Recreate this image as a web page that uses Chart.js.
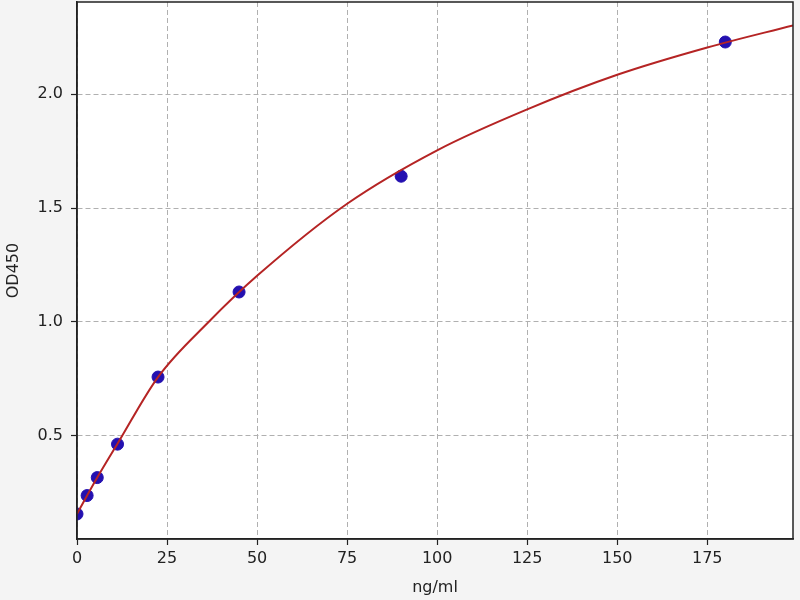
<!DOCTYPE html>
<html>
<head>
<meta charset="utf-8">
<script src="https://cdn.jsdelivr.net/npm/chart.js@4/dist/chart.umd.min.js"></script>
<style>
html,body{margin:0;padding:0;background:#f4f4f4;}
#wrap{width:800px;height:600px;}
</style>
</head>
<body>
<div id="wrap"><canvas id="c" width="800" height="600"></canvas></div>
<script>
// Measured standards
const pointX = [0, 2.8125, 5.625, 11.25, 22.5, 45, 90, 180];
const pointY = [0.155, 0.236, 0.315, 0.462, 0.757, 1.131, 1.64, 2.23];
// Fitted curve
const curveX = [0, 2.8125, 5.625, 11.25, 22.5, 36.6, 50, 75, 100, 125, 150, 175, 198.8];
const curveY = [0.155, 0.236, 0.315, 0.464, 0.757, 1.0, 1.202, 1.519, 1.754, 1.934, 2.086, 2.206, 2.303];
// Tick labels
const xTicks = [0, 25, 50, 75, 100, 125, 150, 175];
const yTicks = [0.5, 1.0, 1.5, 2.0];
const xRange = [0, 198.8];
const yRange = [0.045, 2.406];

const FONT = 'DejaVu Sans';

const bgPlugin = {
  id: 'bg',
  beforeDraw(chart) {
    const ctx = chart.ctx, a = chart.chartArea;
    ctx.save();
    ctx.fillStyle = '#f4f4f4';
    ctx.fillRect(0, 0, chart.width, chart.height);
    ctx.fillStyle = '#ffffff';
    ctx.fillRect(a.left, a.top, a.right - a.left, a.bottom - a.top);
    ctx.restore();
  },
  afterDraw(chart) {
    const ctx = chart.ctx, a = chart.chartArea;
    ctx.save();
    ctx.strokeStyle = '#222222';
    ctx.lineWidth = 1.5;
    ctx.strokeRect(a.left, a.top, a.right - a.left, a.bottom - a.top);
    ctx.restore();
  }
};

const gridOpts = {
  color: '#b0b0b0', lineWidth: 1,
  drawTicks: true, tickLength: 6, tickColor: '#222222', tickBorderDash: [], tickWidth: 1.2
};

new Chart(document.getElementById('c'), {
  type: 'scatter',
  data: {
    datasets: [
      {
        label: 'curve',
        type: 'line',
        data: curveX.map((x, i) => ({x: x, y: curveY[i]})),
        borderColor: '#b52424',
        borderWidth: 2,
        pointRadius: 0,
        cubicInterpolationMode: 'monotone',
        fill: false,
        clip: 0,
        order: 0
      },
      {
        label: 'points',
        data: pointX.map((x, i) => ({x: x, y: pointY[i]})),
        backgroundColor: '#2410b0',
        borderColor: '#2410b0',
        pointRadius: 6,
        pointHoverRadius: 6,
        clip: 0,
        order: 1
      }
    ]
  },
  options: {
    responsive: false,
    animation: false,
    devicePixelRatio: 1,
    layout: {autoPadding: false, padding: {left: 0, right: 7, top: 2, bottom: 0}},
    plugins: {legend: {display: false}, tooltip: {enabled: false}},
    scales: {
      x: {
        type: 'linear',
        min: xRange[0], max: xRange[1],
        afterBuildTicks(s) { s.ticks = xTicks.map(v => ({value: v})); },
        afterFit(s) { s.height = 61; s.paddingLeft = 0; s.paddingRight = 0; },
        border: {display: true, color: '#222222', width: 1.5, dash: [5, 3]},
        grid: gridOpts,
        ticks: {
          color: '#222222', font: {family: FONT, size: 16}, padding: 4,
          maxRotation: 0, autoSkip: false,
          callback: v => String(v)
        },
        title: {display: true, text: 'ng/ml', color: '#222222', font: {family: FONT, size: 16}, padding: {top: 0, bottom: 3}}
      },
      y: {
        type: 'linear',
        min: yRange[0], max: yRange[1],
        afterBuildTicks(s) { s.ticks = yTicks.map(v => ({value: v})); },
        afterFit(s) { s.width = 77; s.paddingTop = 0; s.paddingBottom = 0; },
        border: {display: true, color: '#222222', width: 1.5, dash: [5, 3]},
        grid: gridOpts,
        ticks: {
          color: '#222222', font: {family: FONT, size: 16}, padding: 8,
          autoSkip: false,
          callback: v => Number(v).toFixed(1)
        },
        title: {display: true, text: 'OD450', color: '#222222', font: {family: FONT, size: 16}, padding: {top: 4, bottom: 0}}
      }
    }
  },
  plugins: [bgPlugin]
});
</script>
</body>
</html>
